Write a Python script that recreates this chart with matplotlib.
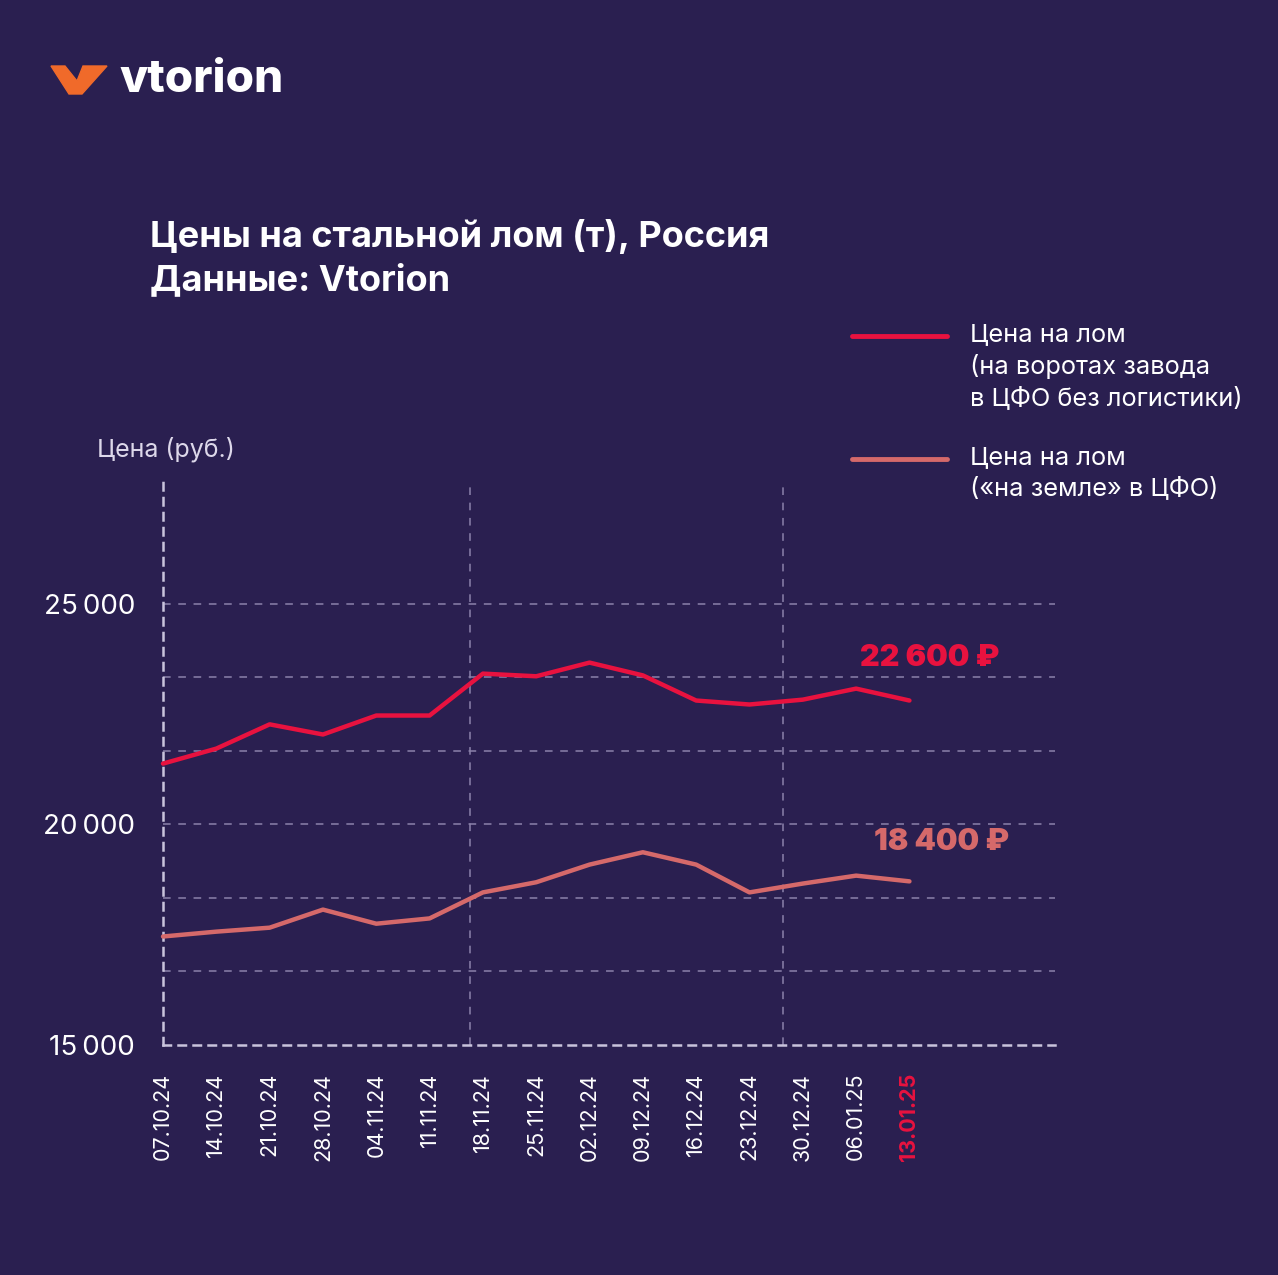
import matplotlib
matplotlib.use("Agg")
import matplotlib.pyplot as plt
from matplotlib.lines import Line2D
from matplotlib.patches import Polygon
import numpy as np

plt.rcParams['font.family'] = ['Inter', 'DejaVu Sans']

dates = ["07.10.24", "14.10.24", "21.10.24", "28.10.24", "04.11.24", "11.11.24",
         "18.11.24", "25.11.24", "02.12.24", "09.12.24", "16.12.24", "23.12.24",
         "30.12.24", "06.01.25", "13.01.25"]
gate_price = [21380, 21720, 22270, 22040, 22470, 22470, 23420, 23360, 23670,
              23380, 22810, 22720, 22830, 23080, 22810]
ground_price = [17460, 17570, 17660, 18070, 17750, 17870, 18460, 18690, 19090,
                19370, 19090, 18460, 18660, 18840, 18710]
gate_label = "22 600 ₽"
ground_label = "18 400 ₽"
legend_labels = ["Цена на лом\n(на воротах завода\nв ЦФО без логистики)",
                 "Цена на лом\n(«на земле» в ЦФО)"]

BG = "#2a1f50"
RED = "#e8123f"
SALMON = "#d5696a"
GRID = "#8b82ab"
AXIS = "#c9c3dc"

W, H = 1278, 1275
fig = plt.figure(figsize=(W / 100, H / 100), dpi=100, facecolor=BG)
ax = fig.add_axes([163 / W, 1 - 1045 / H, (1055 - 163) / W, (1045 - 480) / H])
ax.set_facecolor(BG)

x = np.arange(len(dates))
ax.plot(x, gate_price, color=RED, lw=3.2, solid_capstyle="round", solid_joinstyle="round", clip_on=False, zorder=3)
ax.plot(x, ground_price, color=SALMON, lw=3.2, solid_capstyle="round", solid_joinstyle="round", clip_on=False, zorder=3)

ax.set_xlim(0, 16.73)
ax.set_ylim(15000, 27810)

# gridlines
for v in np.arange(15000, 25001, 5000 / 3)[1:]:
    ax.axhline(v, color=GRID, lw=1.1, ls=(0, (5, 5)), zorder=1)
for xv in (5.76, 11.62):
    ax.axvline(xv, color=GRID, lw=1.1, ls=(0, (5, 5)), zorder=1)

for s in ("top", "right"):
    ax.spines[s].set_visible(False)
for s in ("left", "bottom"):
    ax.spines[s].set_color(AXIS)
    ax.spines[s].set_linewidth(1.8)
    ax.spines[s].set_linestyle((0, (3, 3)))

ax.set_yticks([15000, 20000, 25000])
ax.set_yticklabels([f"{v:,}".replace(",", "\u2009") for v in [15000, 20000, 25000]])
ax.set_xticks(x)
ax.set_xticklabels(dates, rotation=90)
ax.tick_params(axis="y", length=0, pad=20, labelsize=20, labelcolor="white")
ax.tick_params(axis="x", length=0, pad=20, labelsize=15.5, labelcolor="white")
last = ax.get_xticklabels()[-1]
last.set_color(RED)
last.set_fontweight("bold")

# end labels
ax.annotate(gate_label, (x[-1], gate_price[-1]), xytext=(-49, 43), textcoords="offset pixels",
            color=RED, fontsize=22, fontweight="black", va="center", ha="left")
ax.annotate(ground_label, (x[-1], ground_price[-1]), xytext=(-35, 39), textcoords="offset pixels",
            color=SALMON, fontsize=22, fontweight="black", va="center", ha="left")

fig.text(97 / W, 1 - 449 / H, "Цена (руб.)", color="#ddd8ea", fontsize=18, fontweight="normal", va="center")

# title
fig.text(150 / W, 1 - 236 / H, "Цены на стальной лом (т), Россия", color="white", fontsize=26,
         fontweight="bold", va="center")
fig.text(150 / W, 1 - 280 / H, "Данные: Vtorion", color="white", fontsize=26,
         fontweight="bold", va="center")

# legend
for yy, col, lab in [(336, RED, legend_labels[0]), (459, SALMON, legend_labels[1])]:
    fig.add_artist(Line2D([852 / W, 947 / W], [1 - yy / H, 1 - yy / H], transform=fig.transFigure,
                          color=col, lw=3.5, solid_capstyle="round"))
    fig.text(970 / W, 1 - (yy - 13) / H, lab, color="white", fontsize=18.3, va="top",
             linespacing=1.38)

# logo
pts = [(51, 66), (65, 66), (77, 81), (83, 66), (107, 66), (82, 94), (69, 94)]
fig.add_artist(Polygon([(px / W, 1 - py / H) for px, py in pts], closed=True,
                       transform=fig.transFigure, color="#f06a2a"))
fig.text(119 / W, 1 - 92 / H, "vtorion", color="white", fontsize=33, fontweight="heavy",
         va="baseline")

fig.savefig("out.png", dpi=100, facecolor=BG)
